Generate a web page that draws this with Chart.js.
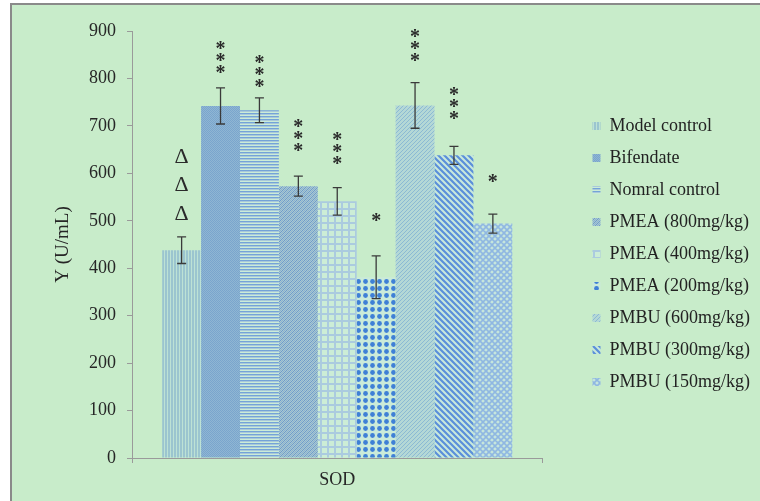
<!DOCTYPE html>
<html>
<head>
<meta charset="utf-8">
<script src="https://cdn.jsdelivr.net/npm/chart.js@4.4.1/dist/chart.umd.min.js"></script>
<style>
  html, body { margin: 0; padding: 0; background: #fff; overflow: hidden; }
  .frame {
    position: absolute; left: 10px; top: 3px; width: 750px; height: 498px;
    box-sizing: border-box; border-left: 2px solid #8a8a8a; border-top: 2px solid #8a8a8a;
    background: #c8ecca;
  }
  canvas { display: block; }
</style>
</head>
<body>
<div class="frame"><canvas id="sodChart" width="748" height="496"></canvas></div>
<script>
const groups = ['SOD'];
const seriesNames = ['Model control', 'Bifendate', 'Nomral control', 'PMEA (800mg/kg)', 'PMEA (400mg/kg)',
  'PMEA (200mg/kg)', 'PMBU (600mg/kg)', 'PMBU (300mg/kg)', 'PMBU (150mg/kg)'];
const means = [438, 742, 733, 573, 541, 381, 743, 638, 494];
const errors = [28, 38, 26, 21, 29, 45, 48, 19, 20];
// significance marks and the value where the lowest mark sits
const marks = ['ΔΔΔ', '***', '***', '***', '***', '*', '***', '***', '*'];
const markBase = [518, 818, 788, 653, 626, 506, 843, 721, 588];
const yTicks = [0, 100, 200, 300, 400, 500, 600, 700, 800, 900];

const serif = '"Liberation Serif", "Times New Roman", serif';
const ctx = document.getElementById('sodChart').getContext('2d');

function makePattern(w, h, draw) {
  const c = document.createElement('canvas');
  c.width = w; c.height = h;
  const g = c.getContext('2d');
  draw(g, w, h);
  return ctx.createPattern(c, 'repeat');
}

const patterns = [
  makePattern(3, 1, (g) => { g.fillStyle = '#bde2d5'; g.fillRect(0, 0, 3, 1); g.fillStyle = '#9bc5cf'; g.fillRect(0, 0, 2, 1); }),
  makePattern(2, 2, (g) => { g.fillStyle = '#7aa5cd'; g.fillRect(0, 0, 2, 2); g.fillStyle = '#8fb6d3'; g.fillRect(0, 0, 1, 1); g.fillRect(1, 1, 1, 1); }),
  makePattern(1, 3, (g) => { g.fillStyle = '#cbecd7'; g.fillRect(0, 0, 1, 3); g.fillStyle = '#74a3d8'; g.fillRect(0, 0, 1, 1); g.fillStyle = '#a9c9da'; g.fillRect(0, 1, 1, 1); }),
  makePattern(4, 4, (g) => {
    g.fillStyle = '#a7c8d1'; g.fillRect(0, 0, 4, 4);
    g.fillStyle = '#6f9bcb';
    for (let i = 0; i < 4; i++) { g.fillRect(i, 3 - i, 1, 1); }
    g.fillStyle = '#8cb1cf';
    for (let i = 0; i < 4; i++) { g.fillRect(i, (5 - i) % 4, 1, 1); }
  }),
  makePattern(7, 7, (g) => {
    g.fillStyle = '#ccedd6'; g.fillRect(0, 0, 7, 7);
    g.fillStyle = '#abcbdf'; g.fillRect(0, 0, 7, 2); g.fillRect(0, 0, 2, 7);
  }),
  makePattern(7, 7, (g) => {
    g.fillStyle = '#cbebd9'; g.fillRect(0, 0, 7, 7);
    g.fillStyle = '#3f80d6'; g.beginPath(); g.arc(3.5, 3.5, 2.4, 0, Math.PI * 2); g.fill();
  }),
  makePattern(4, 4, (g) => {
    g.fillStyle = '#b4d8d6'; g.fillRect(0, 0, 4, 4);
    g.fillStyle = '#8cbad4';
    for (let i = 0; i < 4; i++) { g.fillRect(i, 3 - i, 1, 1); }
  }),
  makePattern(6, 6, (g) => {
    g.fillStyle = '#c9e9dc'; g.fillRect(0, 0, 6, 6);
    g.strokeStyle = '#5b8fda'; g.lineWidth = 2.2;
    g.beginPath();
    g.moveTo(-6, -6); g.lineTo(12, 12);
    g.moveTo(-6, 0); g.lineTo(6, 12);
    g.moveTo(0, -6); g.lineTo(12, 6);
    g.stroke();
  }),
  makePattern(6, 6, (g) => {
    g.fillStyle = '#c6e6dc'; g.fillRect(0, 0, 6, 6);
    g.strokeStyle = '#8fb7e2'; g.lineWidth = 1.6;
    g.beginPath();
    g.moveTo(-3, 3); g.lineTo(3, -3); g.moveTo(0, 6); g.lineTo(6, 0); g.moveTo(3, 9); g.lineTo(9, 3);
    g.moveTo(-3, 3); g.lineTo(3, 9); g.moveTo(0, 0); g.lineTo(6, 6); g.moveTo(3, -3); g.lineTo(9, 3);
    g.stroke();
  })
];

// error bars and significance marks on top of each bar
const errorBars = {
  id: 'errorBars',
  afterDatasetsDraw(chart) {
    const c = chart.ctx;
    const yScale = chart.scales.y;
    c.save();
    chart.data.datasets.forEach((ds, i) => {
      const bar = chart.getDatasetMeta(i).data[0];
      if (!bar) return;
      const x = bar.x;
      const yTop = yScale.getPixelForValue(means[i] + errors[i]);
      const yBot = yScale.getPixelForValue(means[i] - errors[i]);
      c.strokeStyle = '#3a3a3a';
      c.lineWidth = 1.3;
      c.beginPath();
      c.moveTo(x, yTop); c.lineTo(x, yBot);
      c.moveTo(x - 4.5, yTop); c.lineTo(x + 4.5, yTop);
      c.moveTo(x - 4.5, yBot); c.lineTo(x + 4.5, yBot);
      c.stroke();

      const sym = marks[i];
      const base = yScale.getPixelForValue(markBase[i]);
      const isDelta = sym[0] === 'Δ';
      const step = isDelta ? 28.5 : 12;
      c.fillStyle = '#2a2a2a';
      c.font = isDelta ? '22px ' + serif : 'bold 20px ' + serif;
      c.textAlign = 'center';
      c.textBaseline = 'alphabetic';
      for (let k = 0; k < sym.length; k++) {
        const cy = base - k * step;
        c.fillText(sym[k], x, cy + (isDelta ? 7.5 : 9));
      }
    });
    c.restore();
  }
};

const sodChart = new Chart(ctx, {
  type: 'bar',
  data: {
    labels: groups,
    datasets: seriesNames.map((name, i) => ({
      label: name,
      data: [means[i]],
      backgroundColor: patterns[i],
      borderWidth: 0,
      barPercentage: 1,
      categoryPercentage: 0.853
    }))
  },
  options: {
    responsive: false,
    animation: false,
    layout: { padding: { top: 26, bottom: 0, left: 0, right: 0 } },
    scales: {
      x: {
        grid: { drawOnChartArea: false, tickLength: 5, color: '#9a9a9a' },
        border: { color: '#9a9a9a' },
        ticks: { color: '#262626', padding: 6, font: { family: serif, size: 18 } },
        afterFit(s) { s.height = 43; }
      },
      y: {
        min: 0,
        max: 900,
        afterBuildTicks(s) { s.ticks = yTicks.map(v => ({ value: v })); },
        grid: { drawOnChartArea: false, tickLength: 5, color: '#9a9a9a' },
        border: { color: '#9a9a9a' },
        ticks: { color: '#262626', padding: 11, font: { family: serif, size: 18 } },
        title: { display: true, text: 'Y (U/mL)', color: '#262626', padding: { top: 40, bottom: 0 }, font: { family: serif, size: 19 } },
        afterFit(s) { s.width = 120; }
      },
      // empty spacer between plot and legend
      gap: {
        type: 'linear',
        position: 'right',
        display: false,
        afterFit(s) { s.width = 36; }
      }
    },
    plugins: {
      legend: {
        position: 'right',
        align: 'center',
        fullSize: false,
        title: { display: true, text: ' ', padding: 0, font: { size: 19, lineHeight: 1 } },
        labels: { boxWidth: 8, boxHeight: 8, padding: 14, color: '#222', font: { family: serif, size: 18 } }
      },
      tooltip: { enabled: false }
    }
  },
  plugins: [errorBars]
});
</script>
</body>
</html>
